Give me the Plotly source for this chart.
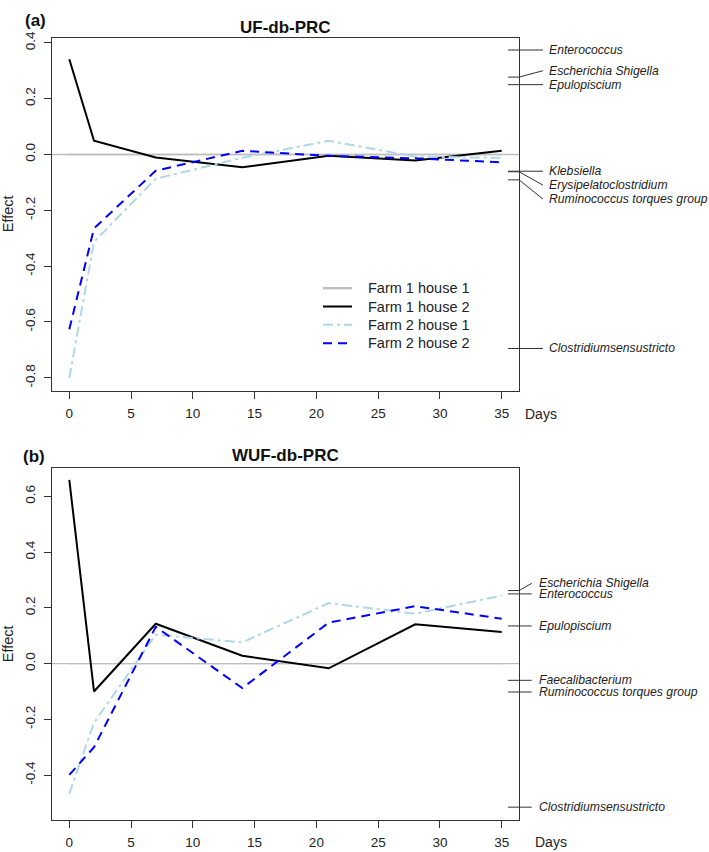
import plotly.graph_objects as go

# ---------------- data ----------------
days = [0, 2, 7, 14, 21, 28, 35]
series_names = ["Farm 1 house 1", "Farm 1 house 2", "Farm 2 house 1", "Farm 2 house 2"]

# panel (a) UF-db-PRC
uf_f1h1 = [0, 0, 0, 0, 0, 0, 0]
uf_f1h2 = [0.341, 0.049, -0.011, -0.046, -0.005, -0.022, 0.013]
uf_f2h1 = [-0.800, -0.313, -0.087, -0.012, 0.049, -0.008, -0.012]
uf_f2h2 = [-0.626, -0.265, -0.058, 0.013, -0.005, -0.014, -0.028]
uf_species = ["Enterococcus", "Escherichia Shigella", "Epulopiscium", "Klebsiella",
              "Erysipelatoclostridium", "Ruminococcus torques group", "Clostridiumsensustricto"]
uf_species_scores = [0.374, 0.277, 0.250, -0.060, -0.062, -0.091, -0.695]

# panel (b) WUF-db-PRC
wuf_f1h1 = [0, 0, 0, 0, 0, 0, 0]
wuf_f1h2 = [0.659, -0.100, 0.143, 0.028, -0.017, 0.141, 0.113]
wuf_f2h1 = [-0.467, -0.212, 0.104, 0.076, 0.217, 0.179, 0.244]
wuf_f2h2 = [-0.399, -0.300, 0.132, -0.088, 0.147, 0.206, 0.161]
wuf_species = ["Escherichia Shigella", "Enterococcus", "Epulopiscium", "Faecalibacterium",
               "Ruminococcus torques group", "Clostridiumsensustricto"]
wuf_species_scores = [0.262, 0.250, 0.135, -0.060, -0.102, -0.515]

x_ticks = [0, 5, 10, 15, 20, 25, 30, 35]
uf_y_ticks = [-0.8, -0.6, -0.4, -0.2, 0.0, 0.2, 0.4]
wuf_y_ticks = [-0.4, -0.2, 0.0, 0.2, 0.4, 0.6]

# ---------------- layout helpers ----------------
W, H = 709, 852
def px(x):
    return x / W
def py(y):
    return 1 - y / H

FONT = "Liberation Sans, Arial, sans-serif"
styles = {
    "Farm 1 house 1": dict(color="#BEBEBE", width=1.4, dash="solid"),
    "Farm 1 house 2": dict(color="#000000", width=2, dash="solid"),
    "Farm 2 house 1": dict(color="#ADD8E6", width=2, dash="10px,4px,3px,4px"),
    "Farm 2 house 2": dict(color="#0000FF", width=2, dash="9px,6px"),
}
legend_sample_width = {"Farm 1 house 1": 2.4}

def linestack(scores, ht):
    n = len(scores)
    order = sorted(range(n), key=lambda i: scores[i])
    pos = [scores[i] for i in order]
    nm = n // 2
    for k in range(nm + 1, n):
        if pos[k] < pos[k - 1] + ht:
            pos[k] = pos[k - 1] + ht
    for k in range(nm - 1, -1, -1):
        if pos[k] > pos[k + 1] - ht:
            pos[k] = pos[k + 1] - ht
    out = [0] * n
    for j, i in enumerate(order):
        out[i] = pos[j]
    return out

fig = go.Figure()

panels = [
    dict(xa="x", ya="y", series=[uf_f1h1, uf_f1h2, uf_f2h1, uf_f2h2], top=31, bottom=387,
         yr=[-0.8466, 0.418], yt=uf_y_ticks, species=uf_species, scores=uf_species_scores,
         ht=0.05, conn=1.0514, lab=1.06, title="UF-db-PRC", tag="(a)", tagx=35, tagy=14,
         titley=21, daysx=541, daysy=410, legend=True),
    dict(xa="x2", ya="y2", series=[wuf_f1h1, wuf_f1h2, wuf_f2h1, wuf_f2h2], top=465, bottom=820,
         yr=[-0.562, 0.701], yt=wuf_y_ticks, species=wuf_species, scores=wuf_species_scores,
         ht=0.038, conn=1.0272, lab=1.038, title="WUF-db-PRC", tag="(b)", tagx=34, tagy=453,
         titley=452, daysx=551, daysy=842, legend=False),
]

left, right = 52, 519
shapes = []
annotations = []
for p in panels:
    # zero reference line
    shapes.append(dict(type="line", xref=p["xa"] + " domain", yref=p["ya"], x0=0, x1=1, y0=0, y1=0,
                       line=dict(color="#BEBEBE", width=1.4), layer="below"))
    for name, vals in zip(series_names, p["series"]):
        st = styles[name]
        fig.add_trace(go.Scatter(x=days, y=vals, mode="lines", name=name, xaxis=p["xa"], yaxis=p["ya"],
                                 line=dict(color=st["color"], width=st["width"], dash=st["dash"]),
                                 showlegend=False))
    # species labels
    labpos = linestack(p["scores"], p["ht"])
    for sp, sc, lp in zip(p["species"], p["scores"], labpos):
        shapes.append(dict(type="line", xref=p["xa"] + " domain", yref=p["ya"], x0=0.9764, x1=1.0,
                           y0=sc, y1=sc, line=dict(color="#333333", width=1)))
        shapes.append(dict(type="line", xref=p["xa"] + " domain", yref=p["ya"], x0=1.0, x1=p["conn"],
                           y0=sc, y1=lp, line=dict(color="#333333", width=1)))
        annotations.append(dict(xref=p["xa"] + " domain", yref=p["ya"], x=p["lab"], y=lp, text=sp,
                                showarrow=False, xanchor="left", yanchor="middle",
                                font=dict(family=FONT, size=12.2, style="italic", color="#222")))
    # titles and labels
    annotations.append(dict(xref="paper", yref="paper", x=px((left + right) / 2), y=py(p["titley"]),
                            text="<b>" + p["title"] + "</b>", showarrow=False, xanchor="center",
                            yanchor="middle", font=dict(family=FONT, size=17, color="#111")))
    annotations.append(dict(xref="paper", yref="paper", x=px(p["tagx"]), y=py(p["tagy"]),
                            text="<b>" + p["tag"] + "</b>", showarrow=False, xanchor="center",
                            yanchor="middle", font=dict(family=FONT, size=17, color="#111")))
    annotations.append(dict(xref="paper", yref="paper", x=px(p["daysx"]), y=py(p["daysy"]),
                            text="Days", showarrow=False, xanchor="center", yanchor="middle",
                            font=dict(family=FONT, size=14, color="#222")))
    annotations.append(dict(xref="paper", yref="paper", x=px(8), y=py((p["top"] + p["bottom"]) / 2),
                            text="Effect", textangle=-90, showarrow=False, xanchor="center",
                            yanchor="middle", font=dict(family=FONT, size=14.5, color="#222")))

# manual legend (panel a), R-style compact rows
leg_x0, leg_x1, leg_tx, leg_y0, leg_dy = 323, 352, 366, 283.5, 18.5
for i, name in enumerate(series_names):
    st = styles[name]
    yy = py(leg_y0 + i * leg_dy)
    shapes.append(dict(type="line", xref="paper", yref="paper", x0=px(leg_x0), x1=px(leg_x1),
                       y0=yy, y1=yy,
                       line=dict(color=st["color"], width=legend_sample_width.get(name, st["width"]),
                                 dash=st["dash"])))
    annotations.append(dict(xref="paper", yref="paper", x=px(leg_tx), y=yy, text=name,
                            showarrow=False, xanchor="left", yanchor="middle",
                            font=dict(family=FONT, size=14.5, color="#222")))

axis_common = dict(showline=True, mirror=True, linecolor="#333333", linewidth=1, showgrid=False,
                   zeroline=False, ticks="outside", ticklen=7, tickcolor="#333333",
                   tickfont=dict(family=FONT, size=13.5, color="#222"))

layout = dict(
    width=W, height=H, margin=dict(l=0, r=0, t=0, b=0),
    paper_bgcolor="white", plot_bgcolor="white",
    shapes=shapes, annotations=annotations, showlegend=False,
)
for i, p in enumerate(panels):
    xk = "xaxis" if i == 0 else "xaxis2"
    yk = "yaxis" if i == 0 else "yaxis2"
    layout[xk] = dict(axis_common, domain=[px(left), px(right)], range=[-1.4, 36.4],
                      tickvals=x_ticks, ticktext=[str(v) for v in x_ticks], anchor=p["ya"],
                      ticklabelstandoff=3)
    layout[yk] = dict(axis_common, domain=[py(p["bottom"]), py(p["top"])], range=p["yr"],
                      tickvals=p["yt"], ticktext=[f"{v:.1f}" for v in p["yt"]], anchor=p["xa"],
                      tickangle=-90, ticklabelstandoff=4)

fig.update_layout(**layout)
fig.write_html("out.html", config={"displayModeBar": False},
               post_script="document.body.style.margin='0';document.body.style.overflow='hidden';")
